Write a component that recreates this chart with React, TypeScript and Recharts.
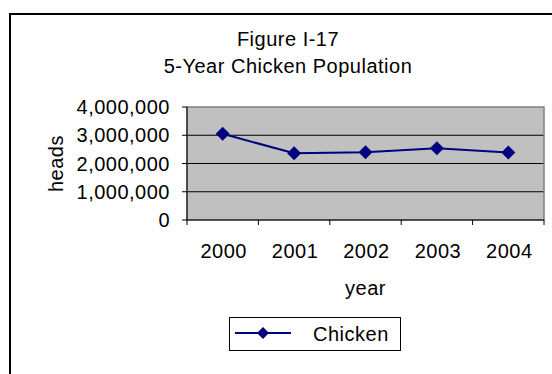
import React from "react";
import {
    LineChart,
    Line,
    XAxis,
    YAxis,
    CartesianGrid,
    ReferenceArea,
    Legend,
} from "recharts";

// values
const years = ["2000", "2001", "2002", "2003", "2004"];
const chickens = [3050000, 2360000, 2400000, 2540000, 2390000];
const yTicks = [0, 1000000, 2000000, 3000000, 4000000];
const gridLines = [1000000, 2000000, 3000000];

const data = years.map((year, i) => ({ year, Chicken: chickens[i] }));

const FONT = '"Liberation Sans", Arial, sans-serif';
const NAVY = "#000080";
const FS = 20;
const LS = 0.5;

function Diamond({ cx, cy, r = 7, ...rest }: any) {
    if (cx == null || cy == null) return null;
    return (
        <polygon
            {...rest}
            points={`${cx},${cy - r} ${cx + r},${cy} ${cx},${cy + r} ${cx - r},${cy}`}
            fill={NAVY}
        />
    );
}

function YTick({ x, y, payload }: any) {
    return (
        <text x={x} y={y + 7} textAnchor="end" fontSize={FS} fill="#000" fontFamily={FONT} letterSpacing={LS}>
            {Number(payload.value).toLocaleString("en-US")}
        </text>
    );
}

function XTick({ x, y, payload, index, visibleTicksCount }: any) {
    const half = payload.offset ?? 0;
    const last = index === (visibleTicksCount ?? years.length) - 1;
    return (
        <g>
            <line x1={x - half} x2={x - half} y1={y} y2={y + 5} stroke="#000" />
            {last && <line x1={x + half} x2={x + half} y1={y} y2={y + 5} stroke="#000" />}
            <text x={x + 1} y={y + 38} textAnchor="middle" fontSize={FS} fill="#000" fontFamily={FONT} letterSpacing={LS}>
                {payload.value}
            </text>
        </g>
    );
}

function HeadsLabel({ viewBox }: any) {
    const cy = viewBox.y + viewBox.height / 2;
    const lx = 63;
    return (
        <text x={lx} y={cy} transform={`rotate(-90 ${lx} ${cy})`} textAnchor="middle" fontSize={FS} fontFamily={FONT} letterSpacing={LS}>
            heads
        </text>
    );
}

function YearLabel({ viewBox }: any) {
    return (
        <text x={viewBox.x + viewBox.width / 2} y={295} textAnchor="middle" fontSize={FS} fontFamily={FONT} letterSpacing={LS}>
            year
        </text>
    );
}

function LegendBox({ payload }: any) {
    const name = payload && payload[0] ? payload[0].value : "Chicken";
    return (
        <div
            style={{
                width: 170,
                height: 32,
                border: "1px solid #000",
                background: "#fff",
                display: "flex",
                alignItems: "center",
                fontFamily: FONT,
            }}
        >
            <svg width={70} height={32} style={{ display: "block" }}>
                <line x1={5} x2={61} y1={15} y2={15} stroke={NAVY} strokeWidth={2} />
                <Diamond cx={33} cy={15} r={6} />
            </svg>
            <span style={{ fontSize: FS, letterSpacing: LS, marginLeft: 13, color: "#000" }}>{name}</span>
        </div>
    );
}

export default function App() {
    return (
        <div
            style={{
                position: "absolute",
                left: 0,
                top: 0,
                width: 552,
                height: 374,
                overflow: "hidden",
                background: "#fff",
                fontFamily: FONT,
            }}
        >
            <div
                style={{
                    position: "absolute",
                    left: 9,
                    top: 13,
                    width: 620,
                    height: 420,
                    border: "2px solid #000",
                }}
            />
            <div
                style={{
                    position: "absolute",
                    left: 0,
                    width: 576,
                    top: 26,
                    textAlign: "center",
                    fontSize: FS,
                    lineHeight: "27px",
                    letterSpacing: LS,
                    color: "#000",
                }}
            >
                Figure I-17
                <br />
                5-Year Chicken Population
            </div>
            <div style={{ position: "absolute", left: 0, top: 0 }}>
                <LineChart
                    width={552}
                    height={374}
                    data={data}
                    margin={{ top: 107, right: 8, left: 0, bottom: 74 }}
                >
                    <CartesianGrid
                        vertical={false}
                        stroke="#000"
                        fill="#C0C0C0"
                        fillOpacity={1}
                        horizontalValues={gridLines}
                    />
                    <ReferenceArea y1={0} y2={4000000} fill="none" stroke="#808080" strokeWidth={1.5} />
                    <XAxis
                        dataKey="year"
                        scale="band"
                        height={80}
                        tickSize={0}
                        tickMargin={0}
                        tickLine={false}
                        axisLine={{ stroke: "#000" }}
                        tick={<XTick />}
                        interval={0}
                        label={<YearLabel />}
                    />
                    <YAxis
                        width={187}
                        domain={[0, 4000000]}
                        ticks={yTicks}
                        interval={0}
                        tickSize={5}
                        tickMargin={12}
                        tickLine={{ stroke: "#000" }}
                        axisLine={{ stroke: "#000" }}
                        tick={<YTick />}
                        label={<HeadsLabel />}
                    />
                    <Legend
                        layout="horizontal"
                        verticalAlign="middle"
                        wrapperStyle={{ left: 229, top: 317, width: 172 }}
                        content={<LegendBox />}
                    />
                    <Line
                        type="linear"
                        dataKey="Chicken"
                        name="Chicken"
                        stroke={NAVY}
                        strokeWidth={2}
                        dot={(p: any) => <Diamond key={`dot-${p.index}`} cx={p.cx} cy={p.cy} />}
                        activeDot={false}
                        isAnimationActive={false}
                    />
                </LineChart>
            </div>
        </div>
    );
}
